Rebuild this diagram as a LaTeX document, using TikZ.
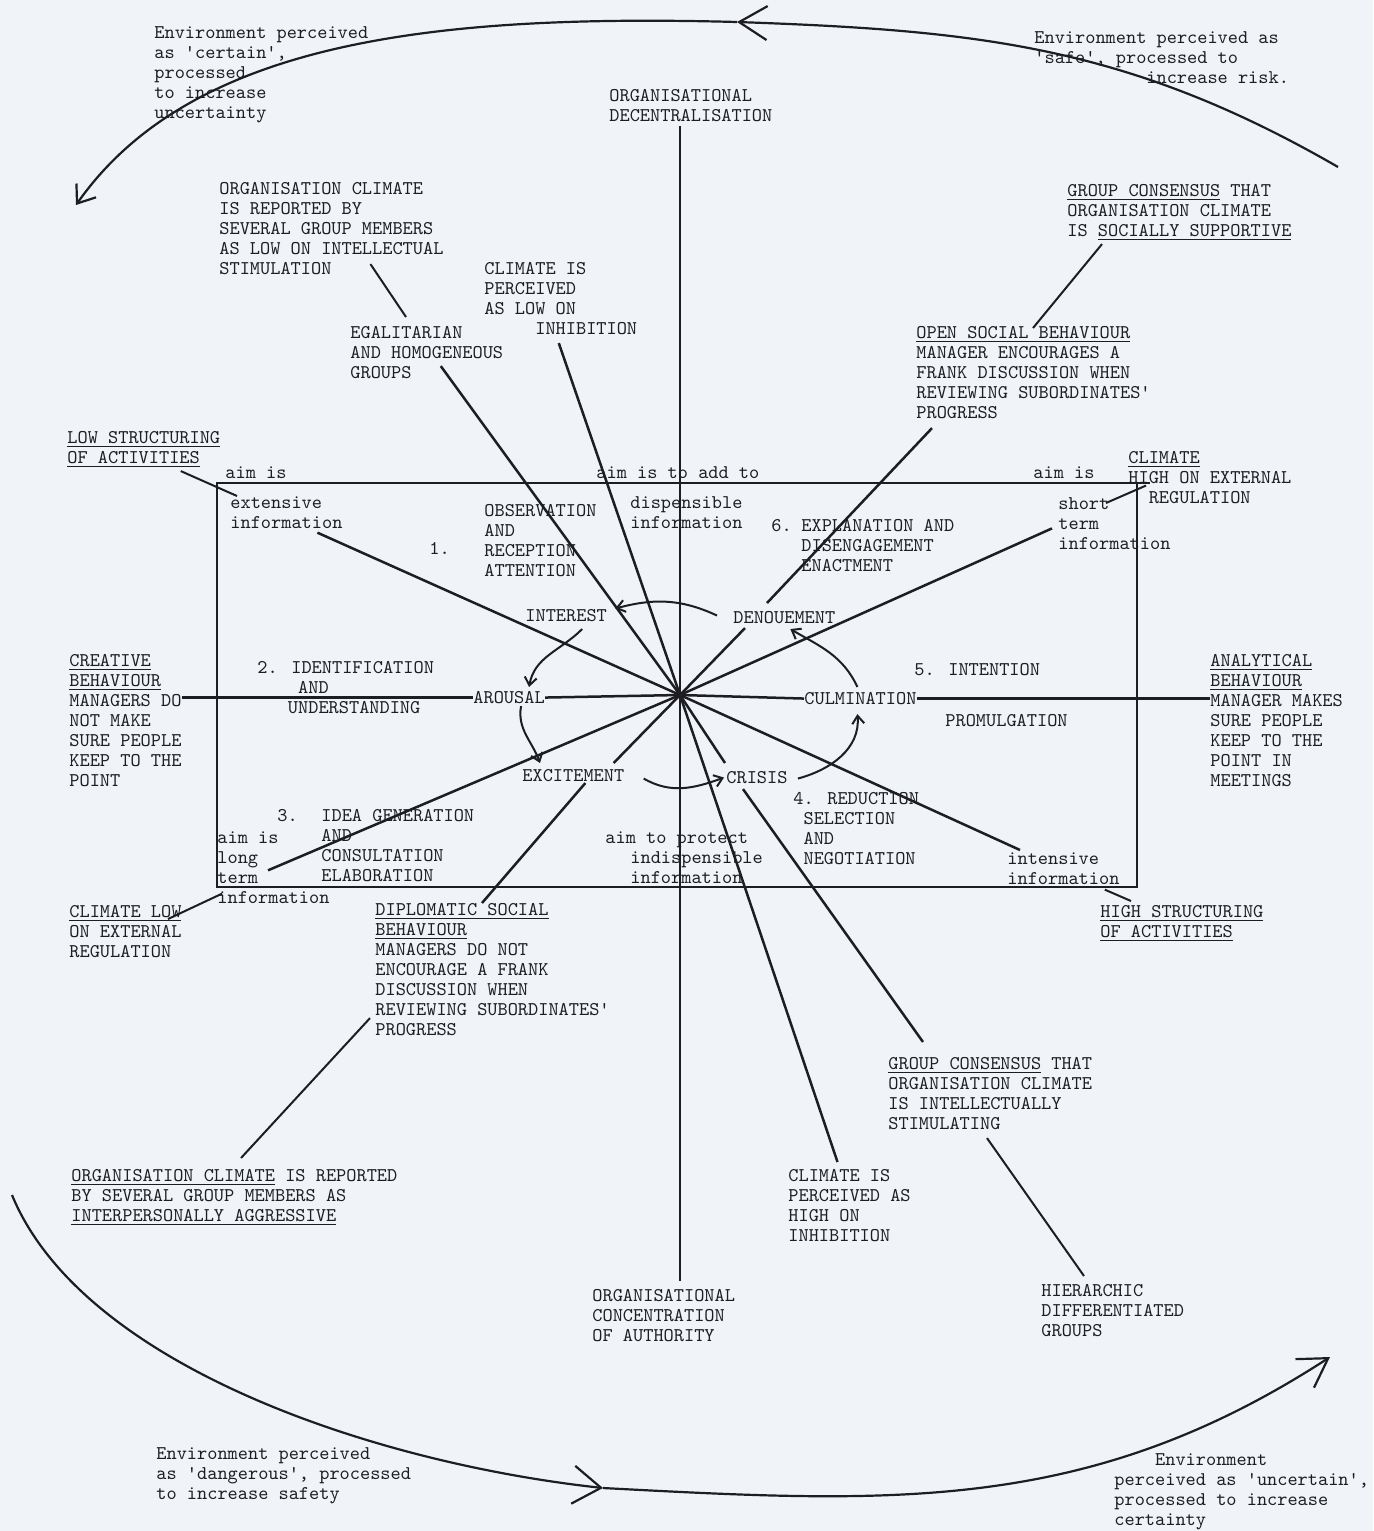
\documentclass[tikz,border=0pt]{standalone}
\usepackage{fontspec}
\usepackage{tikz}
\usetikzlibrary{arrows.meta,calc}
\definecolor{paper}{RGB}{240,243,247}
\definecolor{ink}{RGB}{30,30,34}
\newcommand\typew{\ttfamily\fontsize{9.7}{10}\selectfont}
\tikzset{
  note/.style={anchor=north west, inner sep=0pt, align=left, font=\typew, text=ink},
  spoke/.style={draw=ink, line width=1.25pt},
  lead/.style={draw=ink, line width=1pt},
  turn/.style={draw=ink, line width=1pt, -{Straight Barb[length=4pt,width=6pt]}},
  bigarc/.style={draw=ink, line width=1.1pt},
}
\begin{document}
\begin{tikzpicture}[x=0.5pt,y=-0.5pt]
  \fill[paper] (0,0) rectangle (1373,1531);
  \useasboundingbox (0,0) rectangle (1373,1531);

  % outer ring texts
  \node[note] (envCertain) at (154,26) {Environment perceived\\as 'certain',\\processed\\to increase\\uncertainty};
  \node[note] (envSafe) at (1034,31) {Environment perceived as\\'safe', processed to\\\hspace*{56pt}increase risk.};
  \node[note] (envDanger) at (156,1447) {Environment perceived\\as 'dangerous', processed\\to increase safety};
  \node[note] (envUncert) at (1114,1453) {\phantom{XXXX}Environment\\perceived as 'uncertain',\\processed to increase\\certainty};

  % outer statements
  \node[note] (orgDecent) at (609,89) {ORGANISATIONAL\\DECENTRALISATION};
  \node[note] (orgConc) at (592,1289) {ORGANISATIONAL\\CONCENTRATION\\OF AUTHORITY};
  \node[note] (climStim) at (219,182) {ORGANISATION CLIMATE\\IS REPORTED BY\\SEVERAL GROUP MEMBERS\\AS LOW ON INTELLECTUAL\\STIMULATION};
  \node[note] (lowInhib) at (484,262) {CLIMATE IS\\PERCEIVED\\AS LOW ON\\\phantom{XXXXX}INHIBITION};
  \node[note] (egal) at (350,326) {EGALITARIAN\\AND HOMOGENEOUS\\GROUPS};
  \node[note] (groupSocial) at (1067,184) {\underline{GROUP CONSENSUS} THAT\\ORGANISATION CLIMATE\\IS \underline{SOCIALLY SUPPORTIVE}};
  \node[note] (openSocial) at (916,326) {\underline{OPEN SOCIAL BEHAVIOUR}\\MANAGER ENCOURAGES A\\FRANK DISCUSSION WHEN\\REVIEWING SUBORDINATES'\\PROGRESS};
  \node[note] (lowStruct) at (67,431) {\underline{LOW STRUCTURING}\\\underline{OF ACTIVITIES}};
  \node[note] (climHigh) at (1128,451) {\underline{CLIMATE}\\HIGH ON EXTERNAL\\\phantom{XX}REGULATION};
  \node[note] (creative) at (69,654) {\underline{CREATIVE}\\\underline{BEHAVIOUR}\\MANAGERS DO\\NOT MAKE\\SURE PEOPLE\\KEEP TO THE\\POINT};
  \node[note] (analyt) at (1210,654) {\underline{ANALYTICAL}\\\underline{BEHAVIOUR}\\MANAGER MAKES\\SURE PEOPLE\\KEEP TO THE\\POINT IN\\MEETINGS};
  \node[note] (climLow) at (69,905) {\underline{CLIMATE LOW}\\ON EXTERNAL\\REGULATION};
  \node[note] (highStruct) at (1100,905) {\underline{HIGH STRUCTURING}\\\underline{OF ACTIVITIES}};
  \node[note] (diplo) at (375,903) {\underline{DIPLOMATIC SOCIAL}\\\underline{BEHAVIOUR}\\MANAGERS DO NOT\\ENCOURAGE A FRANK\\DISCUSSION WHEN\\REVIEWING SUBORDINATES'\\PROGRESS};
  \node[note] (groupIntel) at (888,1057) {\underline{GROUP CONSENSUS} THAT\\ORGANISATION CLIMATE\\IS INTELLECTUALLY\\STIMULATING};
  \node[note] (highInhib) at (788,1169) {CLIMATE IS\\PERCEIVED AS\\HIGH ON\\INHIBITION};
  \node[note] (aggress) at (71,1169) {\underline{ORGANISATION CLIMATE} IS REPORTED\\BY SEVERAL GROUP MEMBERS AS\\\underline{INTERPERSONALLY AGGRESSIVE}};
  \node[note] (hierarch) at (1041,1284) {HIERARCHIC\\DIFFERENTIATED\\GROUPS};

  % inside the frame
  \node[note] (aimExt) at (225,466) {aim is};
  \node[note] (aimAdd) at (596,466) {aim is to add to};
  \node[note] (aimShort) at (1033,466) {aim is};
  \node[note] (extInfo) at (230,496) {extensive\\information};
  \node[note] (dispInfo) at (630,496) {dispensible\\information};
  \node[note] (shortInfo) at (1058,497) {short\\term\\information};
  \node[note] (one) at (429,542) {1.};
  \node[note] (observ) at (484,504) {OBSERVATION\\AND\\RECEPTION\\ATTENTION};
  \node[note] (six) at (771,519) {6.};
  \node[note] (explan) at (801,519) {EXPLANATION AND\\DISENGAGEMENT\\ENACTMENT};
  \node[note] (interest) at (525,609) {INTEREST};
  \node[note] (denou) at (733,611) {DENOUEMENT};
  \node[note] (two) at (257,661) {2. IDENTIFICATION\\\phantom{XXXX}AND\\\phantom{XXX}UNDERSTANDING};
  \node[note] (arousal) at (473,691) {AROUSAL};
  \node[note] (culmin) at (804,692) {CULMINATION};
  \node[note] (five) at (914,663) {5. INTENTION};
  \node[note] (promul) at (945,714) {PROMULGATION};
  \node[note] (excite) at (522,769) {EXCITEMENT};
  \node[note] (crisis) at (726,771) {CRISIS};
  \node[note] (three) at (277,809) {3.};
  \node[note] (ideaGen) at (321,809) {IDEA GENERATION\\AND\\CONSULTATION\\ELABORATION};
  \node[note] (four) at (793,792) {4. REDUCTION\\\phantom{X}SELECTION\\\phantom{X}AND\\\phantom{X}NEGOTIATION};
  \node[note] (aimLong) at (217,831) {aim is\\long\\term\\information};
  \node[note] (aimProt) at (605,831) {aim to protect\\\hspace*{12.5pt}indispensible\\\hspace*{12.5pt}information};
  \node[note] (intensive) at (1007,852) {intensive\\information};

  \coordinate (hub) at (680,695);
  \draw[ink, line width=1.1pt] (217,483) rectangle (1137,887);
  \draw[ink, line width=1.1pt] (1137,483) -- (1150,483);

  % spokes
  \draw[spoke] (hub) -- ([yshift=-2pt]hub |- orgDecent.south);
  \draw[spoke, shorten >=4pt] (hub) -- (hub |- orgConc.north);
  \draw[spoke] (hub) -- (arousal.east);
  \draw[spoke] (arousal.west) -- (creative.east |- arousal.west);
  \draw[spoke] (hub) -- (culmin.west);
  \draw[spoke] (culmin.east) -- (analyt.west |- culmin.east);
  \draw[spoke] (hub) -- ($(extInfo.south)+(31,4)$);
  \draw[spoke] (hub) -- ($(egal.south)+(14,-13)$);
  \draw[spoke] (hub) -- ($(lowInhib.south)+(-2,8)$);
  \draw[spoke] (hub) -- ($(denou.south west)+(12,4)$);
  \draw[spoke] ($(denou.north west)+(34,-8)$) -- ($(openSocial.south west)+(16,9)$);
  \draw[spoke] (hub) -- ($(shortInfo.west)+(-6,5)$);
  \draw[spoke] (hub) -- ($(aimLong.west)+(51,3)$);
  \draw[spoke] (hub) -- ($(excite.north east)+(-11,-6)$);
  \draw[spoke] ($(excite.south)+(12,1)$) -- ($(diplo.north west)+(107,0)$);
  \draw[spoke] (hub) -- ($(highInhib.north)+(-12,-7)$);
  \draw[spoke] (hub) -- ($(crisis.north west)+(-1,-8)$);
  \draw[spoke] ($(crisis.south west)+(17,5)$) -- ($(groupIntel.north west)+(35,-15)$);
  \draw[spoke] (hub) -- ($(intensive.north west)+(13,-2)$);

  % leaders
  \draw[lead] ($(lowStruct.south)+(37,3)$) -- ($(extInfo.north west)+(7,0)$);
  \draw[lead] ($(climStim.south)+(39,-11)$) -- ($(egal.north west)+(56,-9)$);
  \draw[lead] ($(groupSocial.south west)+(35,3)$) -- ($(openSocial.north west)+(117,2)$);
  \draw[lead] ($(shortInfo.north west)+(48,6)$) -- ($(climHigh.west)+(18,8)$);
  \draw[lead] ($(climLow.north west)+(99,14)$) -- ($(aimLong.south west)+(5,-10)$);
  \draw[lead] ($(diplo.south west)+(-5,-18)$) -- ($(aggress.north west)+(170,-11)$);
  \draw[lead] ($(groupIntel.south west)+(99,8)$) -- ($(hierarch.north west)+(43,-8)$);
  \draw[lead] ($(intensive.south east)+(-15,5)$) -- ($(highStruct.north west)+(31,-4)$);

  % inner cycle
  \draw[turn] ($(denou.west)+(-16,-2)$) to[out=155,in=15] ($(interest.east)+(8,-7)$);
  \draw[turn] ($(interest.south)+(16,7)$) to[out=225,in=80] ($(arousal.north)+(20,-4)$);
  \draw[turn] ($(arousal.south)+(12,2)$) to[out=-100,in=110] ($(excite.north west)+(18,-6)$);
  \draw[turn] ($(excite.east)+(19,3)$) to[out=-30,in=-160] ($(crisis.west)+(-2,0)$);
  \draw[turn] ($(crisis.east)+(10,1)$) to[out=15,in=-85] ($(culmin.south)+(-3,9)$);
  \draw[turn] ($(culmin.north)+(-3,-5)$) to[out=115,in=-30] ($(denou.south)+(6,5)$);

  % outer ring
  \coordinate (ringNE) at (1338,167);
  \coordinate (ringN) at (737,22);
  \coordinate (ringNW) at (76,205);
  \coordinate (ringSW) at (12,1195);
  \coordinate (ringS) at (603,1488);
  \coordinate (ringSE) at (1330,1357);
  \draw[bigarc, -{Straight Barb[length=14pt,width=17pt]}] (ringNE) to[out=150,in=-2] (ringN);
  \draw[bigarc, -{Straight Barb[length=8pt,width=12pt]}] (ringN) .. controls +(-300,-8) and +(116,-165) .. (ringNW);
  \draw[bigarc, -{Straight Barb[length=14pt,width=19pt]}] (ringSW) .. controls +(70,170) and +(-230,-25) .. (ringS);
  \draw[bigarc, -{Straight Barb[length=14pt,width=17pt]}] (ringS) to[out=-3,in=-147] (ringSE);
\end{tikzpicture}
\end{document}
